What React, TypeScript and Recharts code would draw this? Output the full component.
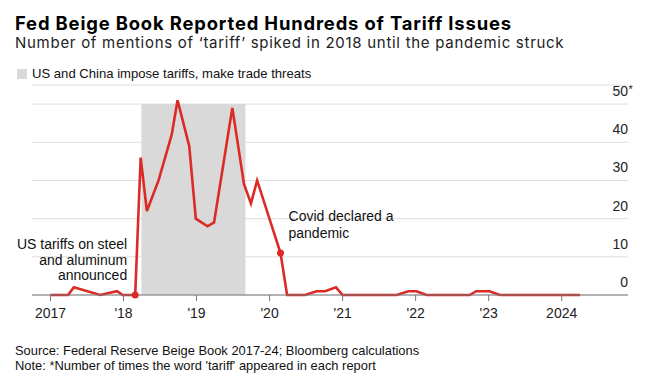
import { LineChart, Line, XAxis, YAxis, CartesianGrid, ReferenceArea } from 'recharts';

// Beige Book report dates (fractional year) and tariff mentions per report
const reportYears = [
  2017.0, 2017.24, 2017.32, 2017.68, 2017.91, 2017.99, 2018.16, 2018.235, 2018.32, 2018.48,
  2018.66, 2018.74, 2018.9, 2018.99, 2019.15, 2019.24, 2019.39, 2019.49, 2019.65, 2019.745,
  2019.83, 2020.15, 2020.24, 2020.485, 2020.645, 2020.76, 2020.91, 2021.0, 2021.74, 2021.9,
  2022.01, 2022.15, 2022.74, 2022.83, 2023.01, 2023.155, 2024.25,
];
const tariffMentions = [
  0, 0, 2, 0, 1, 0, 0, 36, 22, 30,
  42, 51, 39, 20, 18, 19, 37, 49, 29, 24,
  30, 11, 0, 0, 1, 1, 2, 0, 0, 1,
  1, 0, 0, 1, 1, 0, 0,
];

// annotated events: index into the series + label lines
const eventIndex = [6, 21];
const eventLabels = [
  ['US tariffs on steel', 'and aluminum', 'announced'],
  ['Covid declared a', 'pandemic'],
];

const xTicks = [2017, 2018, 2019, 2020, 2021, 2022, 2023, 2024];
const xTickLabels = ['2017', "'18", "'19", "'20", "'21", "'22", "'23", '2024'];
const yTicks = [0, 10, 20, 30, 40, 50];

const tradeWarStart = 2018.245;
const tradeWarEnd = 2019.67;

const RED = '#dc2a27';
const SHADE = '#d9d9d9';
const FONT = '"Liberation Sans", Arial, sans-serif';
const HEAD = 'Inter, "Liberation Sans", Arial, sans-serif';

const chartData = reportYears.map((year, i) => ({
  year,
  mentions: tariffMentions[i],
  event: eventIndex.indexOf(i),
}));

const YTick = ({ y, payload }: any) => (
  <g>
    <text x={628} y={y - 8} textAnchor="end" fontSize={14} fill="#222" fontFamily={FONT}>
      {payload.value}
    </text>
    {payload.value === 50 && (
      <text x={628.5} y={y - 11.5} textAnchor="start" fontSize={11} fill="#222" fontFamily={FONT}>
        *
      </text>
    )}
  </g>
);

const EventDot = (props: any) => {
  const { cx, cy, payload, index } = props;
  if (payload.event < 0) return <g key={`d-${index}`} />;
  const lines = eventLabels[payload.event];
  const left = payload.event === 0;
  return (
    <g key={`d-${index}`}>
      <circle cx={cx} cy={cy} r={3.5} fill={RED} />
      {lines.map((t, i) => (
        <text
          key={i}
          x={left ? cx - 8 : cx + 8}
          y={left ? cy - 46 + i * 15.5 : cy - 31.6 + i * 16.5}
          textAnchor={left ? 'end' : 'start'}
          fontSize={14}
          fill="#111"
          fontFamily={FONT}
        >
          {t}
        </text>
      ))}
    </g>
  );
};

function App() {
  return (
    <div style={{ position: 'fixed', left: 0, top: 0, width: 658, height: 384, background: '#fff', fontFamily: FONT, color: '#111' }}>
      <div style={{ position: 'absolute', left: 15, top: 14.2, fontSize: 18.4, lineHeight: '18.4px', fontWeight: 'bold', color: '#000', whiteSpace: 'nowrap', fontFamily: HEAD, letterSpacing: 0.85 }}>
        Fed Beige Book Reported Hundreds of Tariff Issues
      </div>
      <div style={{ position: 'absolute', left: 15, top: 35.3, fontSize: 15, lineHeight: '15px', color: '#222', whiteSpace: 'nowrap', fontFamily: HEAD, letterSpacing: 0.72 }}>
        Number of mentions of ‘tariff’ spiked in 2018 until the pandemic struck
      </div>
      <div style={{ position: 'absolute', left: 17, top: 69, width: 10, height: 10, background: SHADE }} />
      <div style={{ position: 'absolute', left: 32, top: 66.9, fontSize: 13.1, lineHeight: '13.1px', color: '#111', whiteSpace: 'nowrap' }}>
        US and China impose tariffs, make trade threats
      </div>
      <div style={{ position: 'absolute', left: 0, top: 0 }}>
        <LineChart width={658} height={384} data={chartData} margin={{ top: 85, right: 29, bottom: 59, left: 32 }}>
          <CartesianGrid vertical={false} stroke="#dedede" />
          <ReferenceArea x1={tradeWarStart} x2={tradeWarEnd} y1={0} y2={50} fill={SHADE} fillOpacity={1} stroke="none" />
          <XAxis
            dataKey="year"
            type="number"
            domain={[2016.747, 2024.908]}
            ticks={xTicks}
            tickFormatter={(v) => xTickLabels[xTicks.indexOf(v)]}
            height={30}
            tickSize={6}
            tickMargin={7}
            stroke="#777"
            tick={{ fontSize: 14, fill: '#222', fontFamily: FONT }}
          />
          <YAxis
            orientation="right"
            domain={[0, 55]}
            ticks={yTicks}
            width={1}
            axisLine={false}
            tickLine={false}
            tick={<YTick />}
          />
          <Line
            type="linear"
            dataKey="mentions"
            stroke={RED}
            strokeWidth={2.6}
            dot={EventDot}
            activeDot={false}
            isAnimationActive={false}
          />
        </LineChart>
      </div>
      <div style={{ position: 'absolute', left: 15, top: 345.1, fontSize: 12.9, lineHeight: '12.9px', color: '#111', whiteSpace: 'nowrap' }}>
        Source: Federal Reserve Beige Book 2017-24; Bloomberg calculations
      </div>
      <div style={{ position: 'absolute', left: 15, top: 359.8, fontSize: 12.9, lineHeight: '12.9px', color: '#111', whiteSpace: 'nowrap' }}>
        Note: *Number of times the word 'tariff' appeared in each report
      </div>
    </div>
  );
}

export default App;
